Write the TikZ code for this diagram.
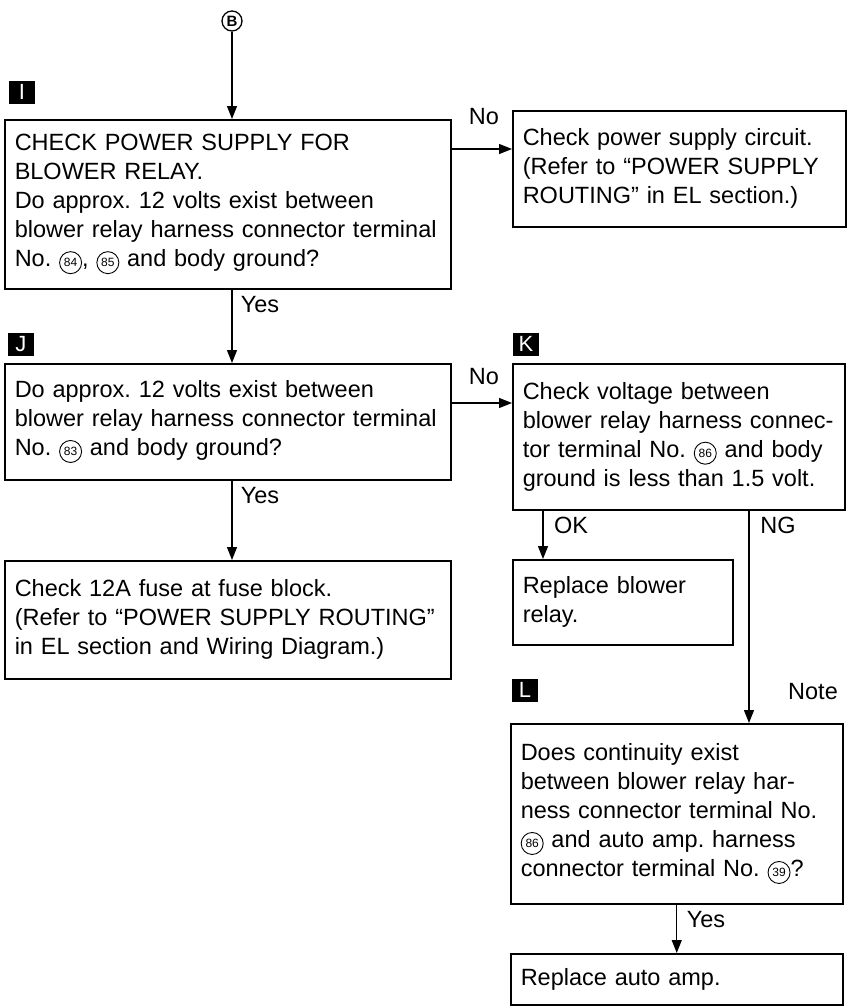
\documentclass[tikz,border=0pt]{standalone}
\usepackage{fontspec}
\setmainfont{Liberation Sans}
\usetikzlibrary{arrows.meta}
\frenchspacing

% circled terminal number
\newcommand{\term}[1]{\tikz[baseline=(t.base)] \node[draw, circle, line width=0.9pt, inner sep=0pt, minimum size=22pt,
    text width={}, align=center, anchor=center, fill=none, text=black, font=\fontsize{12}{12}\selectfont] (t) {#1};}

\begin{document}
\begin{tikzpicture}[x=1pt, y=-1pt,
      box/.style={draw, line width=1.5pt, anchor=north west, align=left, inner xsep=10pt, inner ysep=0pt, font=\fontsize{23.5}{29}\selectfont},
      tag/.style={fill=black, text=white, minimum width=26pt, minimum height=23pt, inner sep=0pt, font=\fontsize{22}{22}\selectfont},
      lbl/.style={font=\fontsize{23.5}{29}\selectfont, inner sep=0pt},
      arr/.style={line width=1.2pt, -{Triangle[length=13pt, width=10pt]}}]
    \useasboundingbox (0,0) rectangle (853,1007);
    \node[draw, circle, line width=1.3pt, inner sep=0pt, minimum size=20pt, font=\fontsize{15}{15}\selectfont\bfseries] (b) at (232,21) {B};
    % left column
    \node[tag] (tagI) at (22,92) {I};
    \node[box, text width=426pt, minimum height=169pt] (i) at (4,119)
      {CHECK POWER SUPPLY FOR\\BLOWER RELAY.\\Do approx. 12 volts exist between\\blower relay harness connector terminal\\No. \term{84}, \term{85} and body ground?};
    \node[tag] (tagJ) at (21,344) {J};
    \node[box, text width=426pt, minimum height=116pt] (j) at (4,363)
      {Do approx. 12 volts exist between\\blower relay harness connector terminal\\No. \term{83} and body ground?};
    \node[box, text width=426pt, minimum height=118pt] (fuse) at (4,560)
      {Check 12A fuse at fuse block.\\(Refer to “POWER SUPPLY ROUTING”\\in EL section and Wiring Diagram.)};
    % right column
    \node[box, text width=313pt, minimum height=116pt] (ps) at (512,110)
      {Check power supply circuit.\\(Refer to “POWER SUPPLY\\ROUTING” in EL section.)};
    \node[tag] (tagK) at (526,344) {K};
    \node[box, text width=312pt, minimum height=146pt] (k) at (512,363)
      {Check voltage between\\blower relay harness connec-\\tor terminal No. \term{86} and body\\ground is less than 1.5 volt.};
    \node[box, text width=200pt, minimum height=85pt] (blower) at (512,559)
      {Replace blower\\relay.};
    \node[tag] (tagL) at (525,690) {L};
    \node[box, text width=312pt, minimum height=180pt] (l) at (510,723)
      {Does continuity exist\\between blower relay har-\\ness connector terminal No.\\\term{86} and auto amp. harness\\connector terminal No. \term{39}?};
    \node[box, text width=312pt, minimum height=51pt] (amp) at (510,953)
      {Replace auto amp.};
    % branch labels
    \node[lbl] (noI) at (484,117) {No};
    \node[lbl] (yesI) at (260,305) {Yes};
    \node[lbl] (noJ) at (484,377) {No};
    \node[lbl] (yesJ) at (260,496) {Yes};
    \node[lbl] (ok) at (571,525) {OK};
    \node[lbl] (ng) at (778,525) {NG};
    \node[lbl] (note) at (813,692) {Note};
    \node[lbl] (yesL) at (706,920) {Yes};
    % connectors
    \coordinate (rowI) at (0,149);
    \coordinate (rowJ) at (0,403);
    \coordinate (colOK) at (543,0);
    \coordinate (colNG) at (749,0);
    \draw[arr] (b) -- (b |- i.north);
    \draw[arr] (i.east |- rowI) -- (ps.west |- rowI);
    \draw[arr] (i.south -| b) -- (j.north -| b);
    \draw[arr] (j.east |- rowJ) -- (k.west |- rowJ);
    \draw[arr] (j.south -| b) -- (fuse.north -| b);
    \draw[arr] (k.south -| colOK) -- (blower.north -| colOK);
    \draw[arr] (k.south -| colNG) -- (l.north -| colNG);
    \draw[arr] (l.south) -- (amp.north);
\end{tikzpicture}
\end{document}
